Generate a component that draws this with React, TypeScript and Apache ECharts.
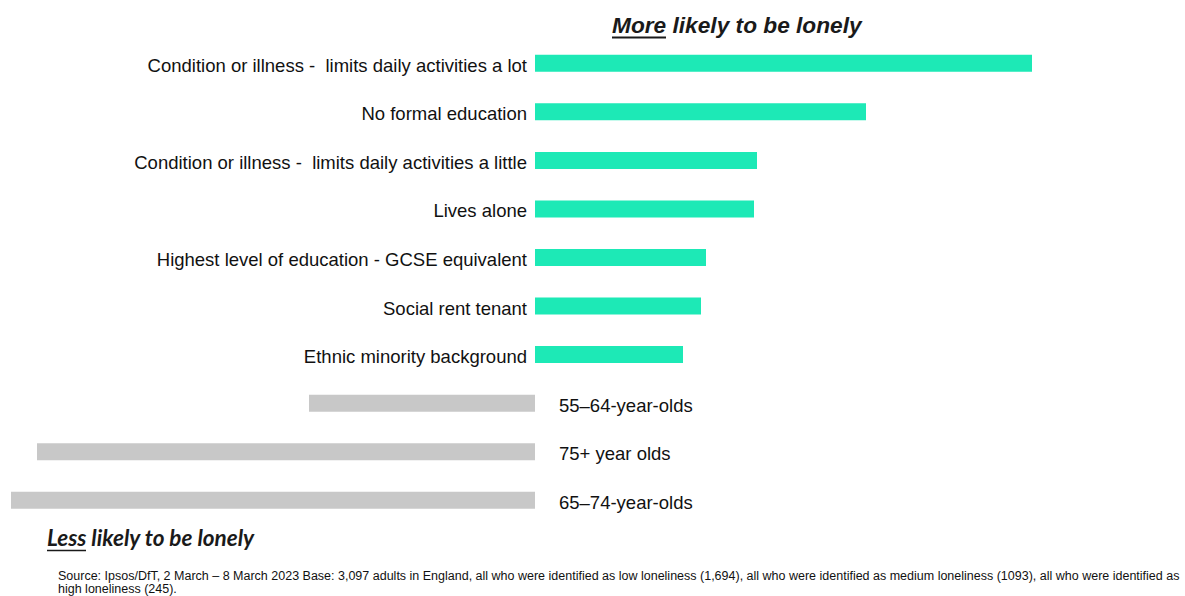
import React, { useEffect, useRef } from "react";
import * as echarts from "echarts";

const categories = [
  "Condition or illness -  limits daily activities a lot",
  "No formal education",
  "Condition or illness -  limits daily activities a little",
  "Lives alone",
  "Highest level of education - GCSE equivalent",
  "Social rent tenant",
  "Ethnic minority background",
  "55–64-year-olds",
  "75+ year olds",
  "65–74-year-olds",
];
const values = [4.97, 3.31, 2.22, 2.19, 1.71, 1.66, 1.48, -2.26, -4.98, -5.24];

const titleMoreUnderlined = "More";
const titleMoreRest = " likely to be lonely";
const titleLessUnderlined = "Less";
const titleLessRest = " likely to be lonely";
const sourceLine1 =
  "Source: Ipsos/DfT, 2 March – 8 March 2023 Base: 3,097 adults in England, all who were identified as low loneliness (1,694), all who were identified as medium loneliness (1093), all who were identified as";
const sourceLine2 = "high loneliness (245).";

const POS_COLOR = "#1DE9B6";
const NEG_COLOR = "#C8C8C8";

export default function App() {
  const ref = useRef<HTMLDivElement>(null);
  useEffect(() => {
    if (!ref.current) return;
    const chart = echarts.init(ref.current, null, { renderer: "svg" });
    const data = values.map((v) => ({
      value: v,
      itemStyle: { color: v >= 0 ? POS_COLOR : NEG_COLOR },
      label: {
        show: true,
        position: v >= 0 ? "left" : "right",
        distance: v >= 0 ? 8 : 24,
      },
    }));
    chart.setOption({
      animation: false,
      grid: { left: 0, width: 1185, top: 39, height: 485.5, containLabel: false },
      xAxis: {
        type: "value",
        min: -5.35,
        max: 6.5,
        show: false,
      },
      yAxis: {
        type: "category",
        data: categories,
        inverse: true,
        show: false,
      },
      series: [
        {
          type: "bar",
          data,
          barWidth: 17,
          label: {
            show: true,
            formatter: (p: any) => categories[p.dataIndex],
            color: "#111",
            fontFamily: "Liberation Sans, Arial, sans-serif",
            fontSize: 18.5,
            offset: [0, 2],
          },
        },
      ],
      graphic: [
        {
          type: "text",
          left: 612,
          top: 13,
          style: {
            text: titleMoreUnderlined + titleMoreRest,
            fontFamily: "Liberation Sans, Arial, sans-serif",
            fontSize: 22.7,
            fontWeight: "bold",
            fontStyle: "italic",
            fill: "#1a1a1a",
          },
        },
        {
          type: "line",
          shape: { x1: 612, y1: 37.5, x2: 666, y2: 37.5 },
          style: { stroke: "#1a1a1a", lineWidth: 2 },
        },
        {
          type: "text",
          left: 47,
          top: 526,
          style: {
            text: titleLessUnderlined + titleLessRest,
            fontFamily: "Lato, Open Sans, sans-serif",
            fontSize: 22.5,
            fontWeight: "bold",
            fontStyle: "italic",
            fill: "#1a1a1a",
          },
        },
        {
          type: "line",
          shape: { x1: 47, y1: 550.5, x2: 86, y2: 550.5 },
          style: { stroke: "#1a1a1a", lineWidth: 1.5 },
        },
        {
          type: "text",
          left: 58,
          top: 569,
          style: {
            text: sourceLine1 + "\n" + sourceLine2,
            fontFamily: "Liberation Sans Narrow, Arial Narrow, Liberation Sans, sans-serif",
            fontSize: 12.5,
            lineHeight: 13.5,
            fill: "#111",
          },
        },
      ],
    });
    return () => chart.dispose();
  }, []);
  return (
    <div
      ref={ref}
      style={{ position: "fixed", left: 0, top: 0, width: 1185, height: 596, background: "#fff" }}
    />
  );
}
